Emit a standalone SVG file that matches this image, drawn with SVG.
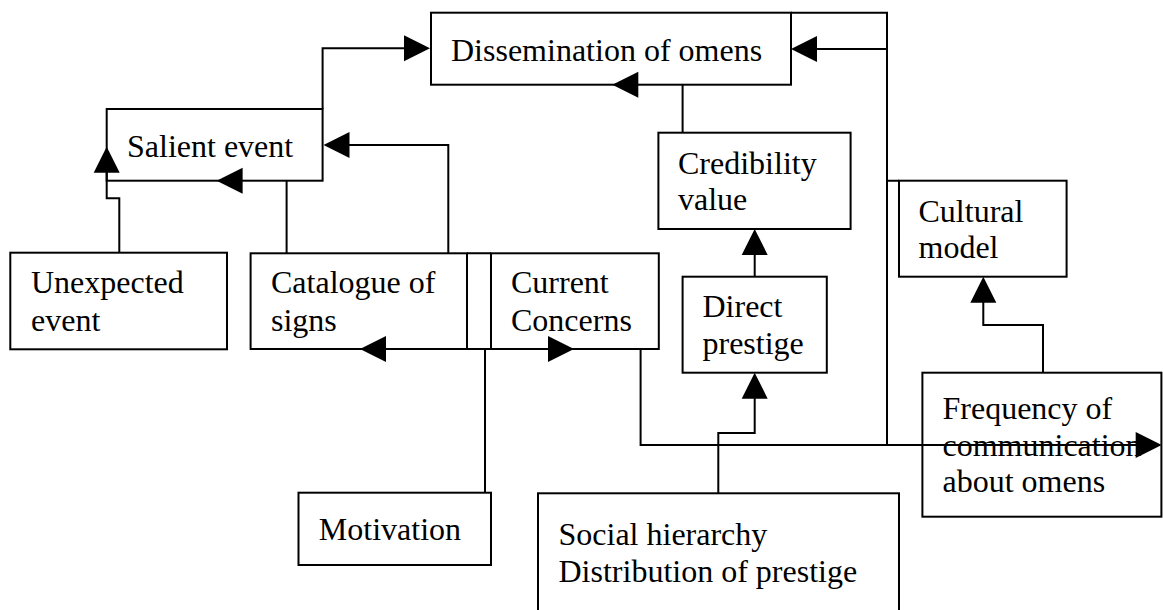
<svg xmlns="http://www.w3.org/2000/svg" xmlns:xlink="http://www.w3.org/1999/xlink" width="1163" height="610" viewBox="0 0 1163 610">
  <style>
    .box { fill: #fff; stroke: #000; stroke-width: 2; }
    .wire { fill: none; stroke: #000; stroke-width: 2; }
    .lbl { font-family: "Liberation Serif", "Times New Roman", serif; font-size: 32px; fill: #000; }
    .head { fill: #000; }
  </style>
  <defs>
    <!-- filled arrowhead, tip at the origin, pointing right -->
    <path id="ah" class="head" d="M0,0 L-26,-13 L-26,13 Z"/>
  </defs>
  <rect width="1163" height="610" fill="#fff"/>

  <g id="dissemination">
    <rect class="box" x="431" y="12.7" width="360" height="72"/>
    <text class="lbl" x="451" y="61">Dissemination of omens</text>
  </g>
  <g id="salient-event">
    <rect class="box" x="106.7" y="109" width="215.9" height="71.7"/>
    <text class="lbl" x="127" y="156.7">Salient event</text>
  </g>
  <g id="unexpected-event">
    <rect class="box" x="10.3" y="252.7" width="216.7" height="96.6"/>
    <text class="lbl" x="31" y="293">Unexpected</text>
    <text class="lbl" x="31" y="330.5">event</text>
  </g>
  <g id="catalogue-of-signs">
    <rect class="box" x="250.6" y="253.3" width="216.4" height="95.7"/>
    <text class="lbl" x="271" y="293">Catalogue of</text>
    <text class="lbl" x="271" y="330.5">signs</text>
  </g>
  <g id="current-concerns">
    <rect class="box" x="491" y="253.3" width="167.8" height="95.7"/>
    <text class="lbl" x="511" y="293">Current</text>
    <text class="lbl" x="511" y="330.5">Concerns</text>
  </g>
  <g id="credibility-value">
    <rect class="box" x="658.4" y="132.7" width="192.2" height="96.3"/>
    <text class="lbl" x="678" y="174">Credibility</text>
    <text class="lbl" x="678" y="210">value</text>
  </g>
  <g id="cultural-model">
    <rect class="box" x="899" y="180.7" width="167.6" height="96"/>
    <text class="lbl" x="918.5" y="221.7">Cultural</text>
    <text class="lbl" x="918.5" y="258">model</text>
  </g>
  <g id="direct-prestige">
    <rect class="box" x="682.6" y="276.7" width="144.2" height="96"/>
    <text class="lbl" x="702.5" y="317.3">Direct</text>
    <text class="lbl" x="702.5" y="353.5">prestige</text>
  </g>
  <g id="frequency">
    <rect class="box" x="922.4" y="372.7" width="239" height="144"/>
    <text class="lbl" x="942.5" y="419">Frequency of</text>
    <text class="lbl" x="942.5" y="455.7">communication</text>
    <text class="lbl" x="942.5" y="492.3">about omens</text>
  </g>
  <g id="motivation">
    <rect class="box" x="298.5" y="492.7" width="192.5" height="72.3"/>
    <text class="lbl" x="318.8" y="540">Motivation</text>
  </g>
  <g id="social-hierarchy">
    <rect class="box" x="538" y="493.3" width="361" height="130"/>
    <text class="lbl" x="558.5" y="545">Social hierarchy</text>
    <text class="lbl" x="558.5" y="581.7">Distribution of prestige</text>
  </g>

  <g id="connectors">
    <!-- joins between the catalogue and concerns boxes -->
    <path class="wire" d="M467,253.3 H491 M467,349 H491"/>
    <!-- salient event to dissemination -->
    <path class="wire" d="M322.6,109 V48.3 H406"/>
    <use xlink:href="#ah" transform="translate(430,48.3)"/>
    <!-- catalogue to salient event -->
    <path class="wire" d="M448.3,253.3 V145 H348"/>
    <use xlink:href="#ah" transform="translate(323.5,145) rotate(180)"/>
    <path class="wire" d="M286.6,253.3 V180.7"/>
    <use xlink:href="#ah" transform="translate(216.6,180.7) rotate(180)"/>
    <!-- unexpected event to salient event -->
    <path class="wire" d="M119.3,252.7 V198.3 H106.7 V172"/>
    <use xlink:href="#ah" transform="translate(106.7,146.7) rotate(-90)"/>
    <!-- motivation to catalogue and concerns -->
    <path class="wire" d="M485,492.7 V349"/>
    <use xlink:href="#ah" transform="translate(360,349) rotate(180)"/>
    <use xlink:href="#ah" transform="translate(574,349)"/>
    <!-- credibility to dissemination -->
    <path class="wire" d="M682.6,132.7 V84.7"/>
    <use xlink:href="#ah" transform="translate(612.3,84.7) rotate(180)"/>
    <!-- direct prestige to credibility -->
    <path class="wire" d="M754.7,276.7 V254"/>
    <use xlink:href="#ah" transform="translate(754.7,229) rotate(-90)"/>
    <!-- social hierarchy to direct prestige -->
    <path class="wire" d="M718.3,493.3 V433 H754.7 V398"/>
    <use xlink:href="#ah" transform="translate(754.7,372.7) rotate(-90)"/>
    <!-- concerns to frequency of communication -->
    <path class="wire" d="M640.6,349 V445 H1137"/>
    <!-- frequency / cultural model feedback to dissemination -->
    <path class="wire" d="M887,445 V12.7 H791 M887,180.7 H899 M887,49 H817"/>
    <use xlink:href="#ah" transform="translate(791,49) rotate(180)"/>
    <!-- frequency to cultural model -->
    <path class="wire" d="M1043,372.7 V325 H983.3 V302"/>
    <use xlink:href="#ah" transform="translate(983.3,276.7) rotate(-90)"/>
    <use xlink:href="#ah" transform="translate(1161.7,445)"/>
  </g>
</svg>
